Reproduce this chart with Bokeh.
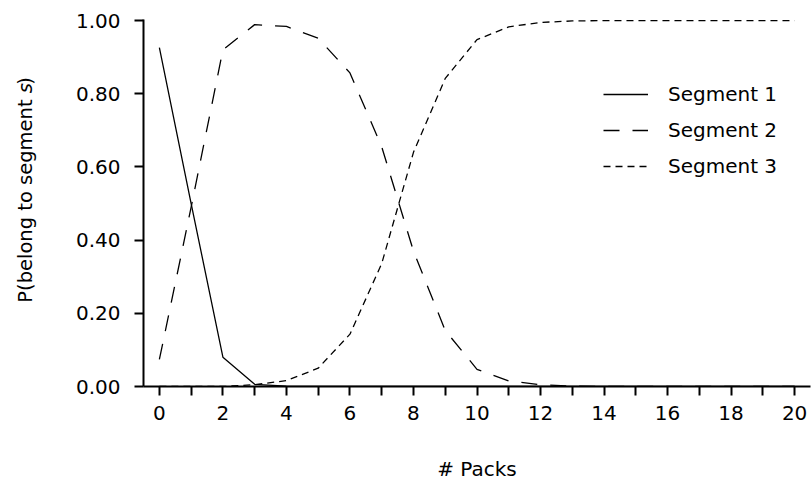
import math
from bokeh.plotting import figure
from bokeh.layouts import row
from bokeh.models import Range1d, FixedTicker, Legend, LegendItem, NumeralTickFormatter
from bokeh.core.properties import value
from bokeh.embed import file_html
from bokeh.resources import INLINE

packs = list(range(0, 21))
segment1 = [0.926, 0.50, 0.080, 0.006, 0.001, 0, 0, 0, 0, 0, 0, 0, 0, 0, 0, 0, 0, 0, 0, 0, 0]
segment2 = [0.074, 0.49, 0.920, 0.989, 0.984, 0.952, 0.857, 0.655, 0.370, 0.153, 0.047, 0.015, 0.005, 0.001, 0, 0, 0, 0, 0, 0, 0]
segment3 = [0.0, 0.0, 0.0, 0.005, 0.016, 0.050, 0.143, 0.336, 0.640, 0.842, 0.948, 0.983, 0.995, 0.999, 1.0, 1.0, 1.0, 1.0, 1.0, 1.0, 1.0]
series_names = ["Segment 1", "Segment 2", "Segment 3"]
x_major_ticks = [0, 2, 4, 6, 8, 10, 12, 14, 16, 18, 20]
x_minor_ticks = [1, 3, 5, 7, 9, 11, 13, 15, 17, 19]
y_ticks = [0.0, 0.2, 0.4, 0.6, 0.8, 1.0]
y_title = ["P(belong to segment ", "s", ")"]

FONT = "DejaVu Sans"
FS = "20px"
LEFT_W = 40
H = 483

# ---- main chart ----
p = figure(width=811 - LEFT_W, height=H, output_backend="svg", toolbar_location=None,
           x_range=Range1d(-0.5, 20.5), y_range=Range1d(0, 1.003),
           min_border_left=143 - LEFT_W, min_border_right=1, min_border_top=19, min_border_bottom=97)
p.grid.visible = False
p.outline_line_color = None
p.background_fill_color = "white"
p.border_fill_color = "white"

r1 = p.line(packs, segment1, line_color="black", line_width=1.3)
r2 = p.line(packs, segment2, line_color="black", line_width=1.3, line_dash="16 13")
r3 = p.line(packs, segment3, line_color="black", line_width=1.3, line_dash="7 5")

for ax in (p.xaxis[0], p.yaxis[0]):
    ax.axis_line_width = 2
    ax.axis_line_color = "black"
    ax.major_tick_line_width = 2
    ax.minor_tick_line_width = 2
    ax.major_tick_line_color = "black"
    ax.minor_tick_line_color = "black"
    ax.major_tick_in = 0
    ax.major_tick_out = 9
    ax.minor_tick_in = 0
    ax.minor_tick_out = 9
    ax.major_label_text_font = FONT
    ax.major_label_text_font_size = FS
    ax.major_label_text_color = "black"
    ax.axis_label_text_font = FONT
    ax.axis_label_text_font_size = FS
    ax.axis_label_text_font_style = "normal"
    ax.axis_label_text_color = "black"

p.xaxis.ticker = FixedTicker(ticks=x_major_ticks, minor_ticks=x_minor_ticks)
p.xaxis.major_label_standoff = 10
p.xaxis.axis_label = "# Packs"
p.xaxis.axis_label_standoff = 34

p.yaxis.ticker = FixedTicker(ticks=y_ticks, minor_ticks=[])
p.yaxis.formatter = NumeralTickFormatter(format="0.00")
p.yaxis.major_label_standoff = 14
p.yaxis.major_label_orientation = "horizontal"

legend = Legend(items=[LegendItem(label=series_names[0], renderers=[r1]),
                       LegendItem(label=series_names[1], renderers=[r2]),
                       LegendItem(label=series_names[2], renderers=[r3])],
                location=(460, 208))
legend.border_line_color = None
legend.background_fill_alpha = 0
legend.padding = 0
legend.margin = 0
legend.spacing = 12
legend.glyph_width = 45
legend.glyph_height = 20
legend.label_height = 20
legend.label_standoff = 20
legend.label_text_font = FONT
legend.label_text_font_size = FS
legend.label_text_color = "black"
legend.label_text_baseline = "middle"
p.add_layout(legend)

# ---- narrow strip holding the rotated y-axis title (with italic "s") ----
lf = figure(width=LEFT_W, height=H, output_backend="svg", toolbar_location=None,
            x_range=Range1d(0, LEFT_W), y_range=Range1d(0, H),
            x_axis_type=None, y_axis_type=None, min_border=0, title=None)
lf.grid.visible = False
lf.outline_line_color = None
lf.background_fill_color = "white"
lf.border_fill_color = "white"

YFS = "19.5px"
s_pos = H - 97          # where the italic "s" begins (pixels from bottom)
w_s = 0.521 * 19.5
lf.text(x=[25, 25, 25], y=[s_pos, s_pos, s_pos + w_s + 1], text=y_title,
        angle=math.pi / 2, text_font=value(FONT), text_font_size=value(YFS),
        text_font_style=["normal", "italic", "normal"],
        text_align=["right", "left", "left"], text_baseline="middle", text_color="black")

layout = row(lf, p, spacing=0)
open("out.html", "w").write(file_html(layout, INLINE))
